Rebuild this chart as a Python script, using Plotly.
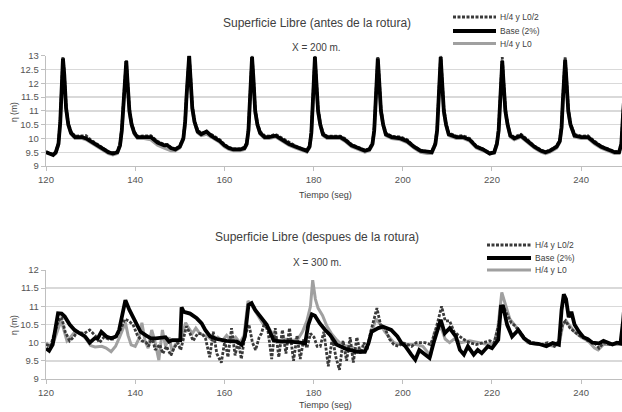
import plotly.graph_objects as go

# ---------------- data ----------------
X_TICKS = [120, 140, 160, 180, 200, 220, 240]
Y_TICKS_TOP = [9, 9.5, 10, 10.5, 11, 11.5, 12, 12.5, 13]
Y_TICKS_BOT = [9, 9.5, 10, 10.5, 11, 11.5, 12]
SERIES_NAMES = ["H/4 y L0/2", "Base (2%)", "H/4 y L0"]

# Top chart (X = 200 m) : shared time axis
T_TOP = [
    120.0, 120.8, 121.6, 122.2, 122.8, 123.2, 123.5, 123.8, 124.1, 124.5, 125.0, 125.6, 126.5, 128.0, 129.0, 130.0, 131.5, 133.0, 134.0, 135.0, 136.0,
    136.6, 137.0, 137.4, 137.7, 138.0, 138.3, 138.7, 139.2, 139.8, 140.5, 142.0, 143.5, 145.0, 146.5, 147.2, 148.0, 149.0, 150.0,
    150.8, 151.2, 151.5, 151.8, 152.1, 152.4, 152.8, 153.3, 154.0, 154.8, 156.0, 157.0, 158.0, 159.0, 160.0, 161.0, 162.0, 163.5, 164.5,
    165.0, 165.4, 165.7, 166.0, 166.2, 166.5, 166.9, 167.4, 168.0, 169.0, 170.0, 171.5, 173.0, 174.5, 176.0, 177.5, 178.5,
    179.1, 179.5, 179.8, 180.1, 180.3, 180.6, 181.0, 181.5, 182.1, 183.0, 184.5, 186.0, 187.0, 188.5, 190.0, 191.5, 192.5,
    193.2, 193.6, 193.9, 194.2, 194.4, 194.7, 195.1, 195.6, 196.2, 197.5, 199.5, 201.0, 202.5, 204.0, 205.5, 206.5,
    207.3, 207.7, 208.0, 208.3, 208.5, 208.8, 209.2, 209.7, 210.3, 212.0, 213.5, 215.0, 216.5, 218.0, 219.5, 220.5,
    221.1, 221.5, 221.8, 222.1, 222.3, 222.6, 223.0, 223.5, 224.1, 225.0, 226.5, 228.0, 229.5, 231.0, 232.0, 233.0, 234.5,
    235.2, 235.6, 235.9, 236.2, 236.4, 236.7, 237.1, 237.6, 238.5, 240.0, 241.5, 243.0, 244.5, 246.0, 247.5, 248.5, 249.0, 249.4, 249.8, 250.2,
]
TOP_BASE = [
    9.50, 9.45, 9.40, 9.50, 9.80, 10.60, 11.80, 12.90, 12.30, 11.10, 10.50, 10.20, 10.05, 10.05, 10.00, 9.90, 9.75, 9.60, 9.50, 9.45, 9.50,
    9.75, 10.30, 11.30, 12.30, 12.80, 12.00, 11.00, 10.50, 10.20, 10.05, 10.05, 10.05, 9.85, 9.75, 9.75, 9.65, 9.60, 9.70,
    10.00, 10.60, 11.50, 12.40, 13.00, 12.20, 11.10, 10.60, 10.25, 10.15, 10.25, 10.10, 10.00, 9.90, 9.75, 9.65, 9.60, 9.60, 9.65,
    9.80, 10.30, 11.30, 12.40, 12.95, 12.20, 11.00, 10.50, 10.20, 10.05, 10.05, 10.10, 9.95, 9.80, 9.70, 9.60, 9.55,
    9.70, 10.20, 11.20, 12.40, 12.95, 12.10, 11.00, 10.50, 10.15, 10.05, 10.05, 10.05, 9.95, 9.75, 9.65, 9.55, 9.60,
    9.80, 10.30, 11.30, 12.40, 12.90, 12.10, 11.00, 10.50, 10.15, 10.05, 10.00, 9.90, 9.70, 9.55, 9.50, 9.50,
    9.80, 10.30, 11.30, 12.40, 12.95, 12.10, 11.00, 10.50, 10.15, 10.05, 10.05, 9.95, 9.70, 9.60, 9.45, 9.50,
    9.80, 10.30, 11.30, 12.30, 12.80, 12.00, 11.00, 10.50, 10.10, 10.00, 10.10, 9.90, 9.70, 9.55, 9.50, 9.55, 9.70,
    9.90, 10.40, 11.40, 12.40, 12.85, 12.10, 11.00, 10.50, 10.10, 10.05, 10.05, 9.85, 9.70, 9.60, 9.50, 9.50, 9.80, 10.90, 12.00, 12.80,
]
TOP_L0 = [
    9.50, 9.45, 9.40, 9.45, 9.75, 10.50, 11.70, 12.85, 12.20, 11.00, 10.45, 10.15, 10.00, 10.00, 9.95, 9.85, 9.70, 9.55, 9.45, 9.40, 9.45,
    9.70, 10.20, 11.20, 12.20, 12.75, 11.90, 10.90, 10.45, 10.15, 10.00, 10.00, 9.95, 9.75, 9.65, 9.60, 9.55, 9.55, 9.65,
    9.95, 10.50, 11.40, 12.30, 12.90, 12.10, 11.00, 10.55, 10.20, 10.10, 10.15, 10.05, 9.95, 9.85, 9.70, 9.60, 9.55, 9.55, 9.60,
    9.75, 10.20, 11.20, 12.30, 12.90, 12.10, 10.90, 10.45, 10.15, 10.00, 10.00, 10.05, 9.90, 9.75, 9.65, 9.55, 9.50,
    9.65, 10.10, 11.10, 12.30, 12.90, 12.00, 10.90, 10.45, 10.10, 10.00, 10.00, 10.00, 9.90, 9.70, 9.60, 9.50, 9.55,
    9.75, 10.20, 11.20, 12.30, 12.85, 12.00, 10.90, 10.45, 10.10, 10.00, 9.95, 9.85, 9.65, 9.50, 9.45, 9.45,
    9.75, 10.20, 11.20, 12.30, 12.90, 12.00, 10.90, 10.45, 10.10, 10.00, 10.00, 9.90, 9.65, 9.55, 9.45, 9.45,
    9.75, 10.20, 11.20, 12.20, 12.75, 11.90, 10.90, 10.45, 10.05, 9.95, 10.05, 9.85, 9.65, 9.50, 9.45, 9.50, 9.65,
    9.85, 10.30, 11.30, 12.30, 12.80, 12.00, 10.90, 10.45, 10.05, 10.00, 10.00, 9.80, 9.65, 9.55, 9.45, 9.45, 9.75, 10.80, 11.90, 12.70,
]
TOP_L02 = [
    9.52, 9.48, 9.42, 9.52, 9.85, 10.70, 11.90, 12.95, 12.40, 11.20, 10.55, 10.25, 10.08, 10.08, 10.10, 9.95, 9.80, 9.62, 9.52, 9.48, 9.52,
    9.80, 10.40, 11.40, 12.40, 12.85, 12.10, 11.10, 10.55, 10.25, 10.08, 10.08, 10.10, 9.90, 9.78, 9.78, 9.68, 9.62, 9.72,
    10.05, 10.70, 11.60, 12.50, 13.00, 12.30, 11.20, 10.65, 10.30, 10.20, 10.22, 10.15, 10.05, 9.95, 9.78, 9.68, 9.62, 9.62, 9.68,
    9.85, 10.40, 11.40, 12.50, 13.00, 12.30, 11.10, 10.55, 10.25, 10.10, 10.08, 10.15, 10.00, 9.85, 9.72, 9.62, 9.58,
    9.75, 10.30, 11.30, 12.50, 13.00, 12.20, 11.10, 10.55, 10.20, 10.08, 10.08, 10.08, 10.00, 9.78, 9.68, 9.58, 9.62,
    9.85, 10.40, 11.40, 12.50, 12.95, 12.20, 11.10, 10.55, 10.20, 10.08, 10.05, 9.95, 9.72, 9.58, 9.52, 9.52,
    9.85, 10.40, 11.40, 12.50, 13.00, 12.20, 11.10, 10.55, 10.20, 10.08, 10.10, 10.00, 9.72, 9.62, 9.48, 9.52,
    9.85, 10.40, 11.40, 12.50, 12.95, 12.10, 11.10, 10.55, 10.15, 10.05, 10.15, 9.95, 9.72, 9.58, 9.52, 9.58, 9.72,
    9.95, 10.50, 11.50, 12.50, 12.95, 12.20, 11.10, 10.55, 10.15, 10.08, 10.10, 9.90, 9.72, 9.62, 9.52, 9.52, 9.85, 11.00, 12.10, 12.90,
]

# Bottom chart (X = 300 m) : (time, level) pairs per series
BOT_BASE = [
    (120.0, 9.84), (120.7, 9.78), (121.5, 9.95), (122.2, 10.40), (122.7, 10.81), (123.5, 10.80), (124.2, 10.72),
    (125.3, 10.50), (126.4, 10.35), (127.5, 10.26), (128.7, 10.18), (129.4, 10.07), (129.8, 10.00), (130.9, 10.12),
    (131.6, 10.12), (132.4, 10.30), (133.5, 10.17), (134.6, 10.12), (135.7, 10.17), (136.4, 10.35), (137.3, 10.81),
    (137.8, 11.17), (138.7, 10.90), (139.4, 10.72), (140.1, 10.58), (141.2, 10.30), (142.4, 10.20), (143.5, 10.12),
    (144.6, 10.12), (146.1, 10.15), (146.8, 10.15), (147.6, 10.03), (148.3, 10.07), (149.4, 10.07), (150.1, 10.07),
    (150.4, 10.97), (150.9, 10.85), (152.3, 10.80), (153.8, 10.67), (154.9, 10.53), (155.7, 10.35), (156.8, 10.17),
    (158.3, 10.10), (160.5, 10.05), (162.8, 10.03), (163.9, 9.94), (164.6, 10.17), (165.4, 11.04), (166.1, 11.09),
    (166.9, 10.90), (168.0, 10.72), (169.5, 10.49), (170.2, 10.30), (171.0, 10.07), (172.5, 10.03), (174.7, 10.03),
    (177.0, 10.00), (178.1, 9.98), (178.8, 10.49), (179.6, 10.78), (180.3, 10.74), (181.4, 10.53), (182.6, 10.35),
    (183.7, 10.21), (185.2, 9.94), (187.4, 9.82), (189.7, 9.75), (191.5, 9.75), (192.3, 9.98), (193.0, 10.30),
    (194.5, 10.40), (195.6, 10.44), (197.4, 10.35), (198.8, 10.17), (199.7, 9.99), (200.6, 9.90), (201.9, 9.67),
    (202.8, 9.53), (203.7, 9.80), (204.6, 9.71), (206.0, 9.58), (206.9, 9.99), (207.8, 10.35), (208.5, 10.63),
    (209.4, 10.26), (210.5, 10.40), (211.9, 10.17), (212.8, 9.80), (213.7, 9.67), (214.6, 9.90), (215.9, 9.67),
    (216.8, 9.80), (217.7, 9.71), (219.1, 9.90), (220.0, 9.85), (221.4, 10.08), (222.0, 10.99), (222.5, 10.99),
    (223.4, 10.49), (224.5, 10.17), (225.9, 10.35), (227.2, 10.12), (228.6, 9.99), (230.4, 9.97), (232.2, 9.90),
    (233.6, 9.99), (235.0, 9.94), (235.6, 10.90), (236.1, 11.33), (236.6, 11.20), (237.2, 10.70), (237.8, 10.85),
    (238.5, 10.50), (239.5, 10.30), (240.5, 10.15), (241.5, 10.10), (242.5, 10.00), (244.0, 9.98), (245.0, 10.05),
    (246.0, 10.00), (247.0, 9.95), (248.0, 10.00), (248.8, 9.98), (249.4, 10.60), (249.8, 11.20),
]
BOT_L0 = [
    (120.0, 10.00), (120.8, 9.90), (121.8, 10.05), (122.6, 10.35), (123.4, 10.62), (124.0, 10.35), (124.7, 10.05),
    (125.5, 10.15), (126.5, 10.30), (127.8, 10.25), (129.0, 10.10), (130.0, 9.92), (131.0, 9.88), (132.5, 9.90),
    (133.5, 9.85), (134.6, 9.75), (135.6, 9.90), (136.5, 10.15), (137.3, 10.40), (137.8, 10.55), (138.4, 10.20),
    (139.1, 9.94), (140.0, 9.90), (140.8, 10.10), (141.5, 10.55), (142.2, 10.05), (142.9, 9.85), (143.7, 10.35),
    (144.4, 10.05), (145.3, 9.52), (146.1, 10.35), (146.8, 9.90), (147.6, 10.15), (148.3, 9.75), (149.0, 9.95),
    (149.7, 10.00), (150.5, 10.15), (151.3, 10.55), (152.0, 10.40), (152.8, 10.25), (153.6, 10.40), (154.5, 10.25),
    (155.5, 10.20), (156.5, 10.15), (157.5, 10.05), (158.5, 10.15), (159.5, 10.05), (160.5, 10.20), (161.5, 10.05),
    (162.5, 10.15), (163.5, 10.00), (164.4, 10.20), (165.3, 11.15), (166.0, 11.05), (167.0, 10.85), (168.5, 10.55),
    (170.0, 10.40), (171.0, 10.20), (172.0, 10.05), (173.5, 10.10), (175.0, 10.05), (176.5, 10.10), (177.5, 10.30),
    (178.5, 10.60), (179.3, 11.00), (179.8, 11.72), (180.4, 11.20), (181.0, 10.95), (182.0, 10.75), (183.0, 10.45),
    (184.0, 10.25), (185.0, 10.10), (186.5, 9.92), (188.0, 9.90), (189.5, 9.82), (191.0, 9.75), (192.0, 9.90),
    (193.0, 10.30), (194.0, 10.65), (195.0, 10.50), (196.0, 10.30), (197.0, 10.15), (198.0, 10.00), (199.5, 9.95),
    (201.0, 9.95), (203.0, 9.95), (204.5, 9.90), (205.5, 9.75), (206.2, 9.60), (207.0, 10.25), (207.8, 10.45),
    (208.8, 10.35), (209.5, 10.10), (210.5, 10.00), (211.5, 10.10), (213.0, 10.00), (215.0, 10.05), (217.0, 10.00),
    (219.0, 9.95), (220.5, 10.00), (221.3, 10.40), (222.2, 11.38), (223.0, 11.05), (224.0, 10.65), (225.3, 10.45),
    (226.5, 10.20), (228.0, 10.00), (230.0, 9.95), (232.0, 9.95), (234.0, 9.90), (235.2, 10.05), (235.9, 10.50),
    (236.6, 10.60), (237.5, 10.45), (238.5, 10.30), (240.0, 10.15), (241.5, 10.05), (243.0, 9.85), (243.8, 9.80),
    (245.0, 9.95), (247.0, 9.95), (249.0, 9.95), (250.0, 10.05),
]
BOT_L02 = [
    (120.0, 9.95), (121.0, 9.90), (122.0, 10.30), (122.8, 10.60), (123.5, 10.70), (124.3, 10.30), (125.3, 10.05),
    (126.2, 10.15), (127.0, 10.30), (128.5, 10.25), (129.8, 10.35), (131.0, 10.20), (132.0, 10.00), (133.0, 10.15),
    (134.0, 10.10), (135.0, 10.10), (136.5, 10.30), (137.7, 10.65), (138.5, 10.60), (139.5, 10.50), (140.5, 10.20),
    (141.5, 10.05), (142.5, 10.00), (143.0, 9.90), (143.8, 10.15), (144.5, 9.80), (145.5, 9.95), (146.2, 9.70),
    (147.0, 9.90), (148.0, 9.65), (148.7, 9.85), (149.5, 10.00), (150.2, 9.80), (150.8, 10.10), (151.5, 10.45),
    (152.3, 10.25), (153.0, 10.05), (154.0, 10.25), (155.0, 10.25), (155.8, 10.10), (156.7, 9.60), (157.5, 10.30),
    (158.3, 9.70), (159.3, 9.45), (160.1, 10.05), (160.8, 9.60), (161.6, 10.40), (162.4, 9.65), (163.1, 10.05),
    (163.8, 9.55), (164.6, 10.20), (165.5, 10.50), (166.3, 10.00), (167.0, 9.80), (167.8, 10.15), (168.3, 10.25),
    (169.0, 10.55), (169.8, 10.30), (170.6, 9.55), (171.4, 10.40), (172.2, 9.60), (173.0, 10.35), (173.8, 9.70),
    (174.6, 10.40), (175.5, 9.50), (176.3, 10.20), (177.0, 9.55), (177.8, 10.10), (178.5, 9.85), (179.3, 10.25),
    (180.1, 10.15), (180.8, 9.90), (181.5, 9.90), (182.3, 10.30), (183.3, 9.35), (184.2, 10.15), (185.0, 9.60),
    (185.8, 9.25), (186.6, 10.05), (187.4, 9.50), (188.2, 10.15), (188.9, 9.45), (189.7, 10.15), (190.5, 9.70),
    (191.3, 10.00), (192.0, 9.80), (192.8, 10.30), (194.2, 10.95), (195.0, 10.50), (196.0, 10.40), (197.0, 10.10),
    (198.0, 9.95), (199.0, 9.90), (200.0, 10.00), (201.0, 9.95), (202.0, 9.90), (203.0, 10.00), (205.0, 10.00),
    (206.2, 9.95), (207.0, 10.20), (207.8, 10.55), (208.7, 11.00), (209.5, 10.60), (210.5, 10.60), (211.5, 10.30),
    (212.5, 10.20), (213.5, 10.10), (215.0, 10.00), (216.5, 9.95), (218.0, 10.00), (219.5, 10.05), (220.5, 10.00),
    (221.5, 10.50), (222.3, 11.05), (223.3, 10.80), (224.3, 10.55), (225.3, 10.45), (226.5, 10.25), (227.5, 10.10),
    (229.0, 10.00), (231.0, 9.95), (232.5, 10.00), (234.0, 9.90), (235.0, 10.05), (235.8, 10.50), (236.5, 10.60),
    (237.5, 10.40), (238.5, 10.30), (239.5, 10.20), (240.5, 10.15), (241.5, 10.05), (243.0, 10.00), (244.0, 9.85),
    (245.0, 10.00), (246.5, 9.95), (248.0, 10.00), (249.5, 10.00),
]

# ---------------- styling ----------------
W, H = 622, 412
FONT = "Liberation Sans, Arial, sans-serif"
TXT = "#404040"
GRID = "#d9d9d9"
AXIS = "#bfbfbf"
STY = {
    "H/4 y L0/2": dict(color="#3a3a3a", width=2.8, dash="3px,1.5px"),
    "Base (2%)": dict(color="#000000", width=3.8, dash="solid"),
    "H/4 y L0": dict(color="#a0a0a0", width=3.0, dash="solid"),
}


def px(x):
    return x / W


def py(y):
    return 1 - y / H


fig = go.Figure()


def add(t, v, name, xa, ya):
    fig.add_trace(go.Scatter(x=t, y=v, mode="lines", name=name, line=STY[name],
                             xaxis=xa, yaxis=ya, showlegend=False, hoverinfo="skip"))


# draw order: grey, dotted, black on top
add(T_TOP, TOP_L0, "H/4 y L0", "x", "y")
add(T_TOP, TOP_L02, "H/4 y L0/2", "x", "y")
add(T_TOP, TOP_BASE, "Base (2%)", "x", "y")
add([p[0] for p in BOT_L0], [p[1] for p in BOT_L0], "H/4 y L0", "x2", "y2")
add([p[0] for p in BOT_L02], [p[1] for p in BOT_L02], "H/4 y L0/2", "x2", "y2")
add([p[0] for p in BOT_BASE], [p[1] for p in BOT_BASE], "Base (2%)", "x2", "y2")

XR = [120, 249.15]
xcommon = dict(range=XR, tickvals=X_TICKS, showgrid=False, showline=True, linecolor=AXIS, linewidth=1.3,
               ticks="outside", ticklen=4, tickcolor=AXIS, tickfont=dict(family=FONT, size=9.5, color="#555"),
               zeroline=False, domain=[px(46), 1.0], fixedrange=True, automargin=False)
ycommon = dict(showgrid=True, gridcolor=GRID, gridwidth=1.4, showline=True, linecolor=AXIS, linewidth=1.3,
               ticks="outside", ticklen=4, tickcolor=AXIS, tickfont=dict(family=FONT, size=9.5, color="#555"),
               zeroline=False, fixedrange=True, automargin=False)

fig.update_layout(
    width=W, height=H, margin=dict(l=0, r=0, t=0, b=0, autoexpand=False),
    paper_bgcolor="white", plot_bgcolor="white", showlegend=False,
    xaxis=dict(xcommon, anchor="y"),
    yaxis=dict(ycommon, range=[9, 13], tickvals=Y_TICKS_TOP, domain=[py(166), py(55.7)], anchor="x",
               ticktext=[("%g" % v) for v in Y_TICKS_TOP]),
    xaxis2=dict(xcommon, anchor="y2"),
    yaxis2=dict(ycommon, range=[9, 12], tickvals=Y_TICKS_BOT, domain=[py(379), py(270)], anchor="x2",
                ticktext=[("%g" % v) for v in Y_TICKS_BOT]),
)

ann = []


def text(x, y, s, size, xanchor="center", angle=0, color=TXT):
    ann.append(dict(x=px(x), y=py(y), xref="paper", yref="paper", text=s, showarrow=False,
                    xanchor=xanchor, yanchor="middle", textangle=angle,
                    font=dict(family=FONT, size=size, color=color)))


text(317, 23, "Superficie Libre (antes de la rotura)", 12)
text(316, 48, "X = 200 m.", 10)
text(325, 195, "Tiempo (seg)", 9)
text(14, 112, "η (m)", 8.5, angle=-90)
text(317, 237, "Superficie Libre (despues de la rotura)", 12)
text(317, 262, "X = 300 m.", 10)
text(325, 405, "Tiempo (seg)", 9)
text(14, 325, "η (m)", 8.5, angle=-90)

shapes = []


def legend(x0, x1, ys):
    for name, y in zip(SERIES_NAMES, ys):
        st = STY[name]
        shapes.append(dict(type="line", xref="paper", yref="paper", x0=px(x0), x1=px(x1), y0=py(y), y1=py(y),
                           line=dict(color=st["color"], width=st["width"], dash=st["dash"])))
        text(x1 + 2, y, name, 8.5, xanchor="left")


legend(453, 496, [17, 31, 43.5])
legend(487, 531, [245, 258, 270])

fig.update_layout(annotations=ann, shapes=shapes)
fig.write_html("out.html", config={"displayModeBar": False, "staticPlot": True},
               post_script="document.body.style.margin='0';document.body.style.padding='0';"
                           "document.body.style.overflow='hidden';")
